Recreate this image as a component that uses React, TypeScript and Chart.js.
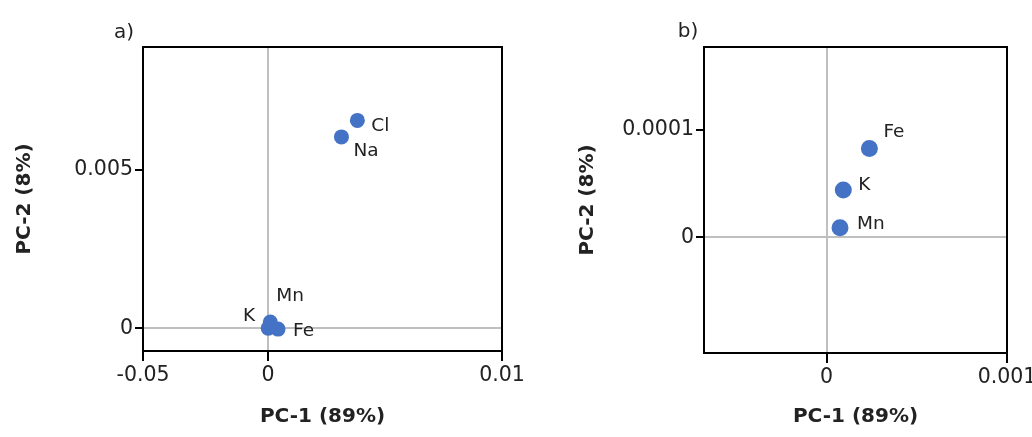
import React, { useEffect, useRef } from "react";
import { Chart, registerables } from "chart.js";
Chart.register(...registerables);

// ---------- Panel a) data ----------
const aElements = ["Cl", "Na", "Mn", "K", "Fe"];
const aPC1 = [0.00382, 0.00314, 0.0001, 0.00001, 0.00043];
const aPC2 = [0.00655, 0.00603, 0.0002, 0.00001, -0.00002];
const aXRange = [-0.00534, 0.01];
const aYRange = [-0.00071, 0.00886];
const aXTicks = [-0.00534, 0, 0.01];
const aXTickLabels = ["-0.05", "0", "0.01"];
const aYTicks = [0, 0.005];
const aYTickLabels = ["0", "0.005"];

// ---------- Panel b) data ----------
const bElements = ["Fe", "K", "Mn"];
const bPC1 = [0.000237, 0.0000924, 0.0000741];
const bPC2 = [0.0000829, 0.0000441, 0.0000089];
const bXRange = [-0.00068, 0.001];
const bYRange = [-0.0001081, 0.0001776];
const bXTicks = [0, 0.001];
const bXTickLabels = ["0", "0.001"];
const bYTicks = [0, 0.0001];
const bYTickLabels = ["0", "0.0001"];

const xTitle = "PC-1 (89%)";
const yTitle = "PC-2 (8%)";

// label placement (style): dx, dy, align
const aLabelPlace: [number, number, CanvasTextAlign][] = [
  [14, 6, "left"],
  [12, 14, "left"],
  [6, -26, "left"],
  [-13, -12, "right"],
  [15, 2, "left"],
];
const bLabelPlace: [number, number, CanvasTextAlign][] = [
  [14, -16, "left"],
  [15, -5, "left"],
  [17, -3, "left"],
];

const FONT = "'DejaVu Sans', sans-serif";
const DOT = "#4472C4";
const TEXT = "#222222";

type PanelCfg = {
  tag: string;
  tagX: number;
  tagY: number;
  width: number;
  height: number;
  area: { left: number; right: number; top: number; bottom: number };
  yTitlePad: number;
  radius: number;
  names: string[];
  xs: number[];
  ys: number[];
  xRange: number[];
  yRange: number[];
  xTicks: number[];
  xTickLabels: string[];
  yTicks: number[];
  yTickLabels: string[];
  place: [number, number, CanvasTextAlign][];
};

function Panel({ cfg, left }: { cfg: PanelCfg; left: number }) {
  const ref = useRef<HTMLCanvasElement>(null);
  useEffect(() => {
    if (!ref.current) return;
    const annot = {
      id: "annot" + cfg.tag,
      afterDatasetsDraw(chart: any) {
        const { ctx, chartArea } = chart;
        ctx.save();
        ctx.strokeStyle = "#000";
        ctx.lineWidth = 2;
        ctx.strokeRect(
          chartArea.left,
          chartArea.top,
          chartArea.right - chartArea.left,
          chartArea.bottom - chartArea.top
        );
        const meta = chart.getDatasetMeta(0);
        ctx.fillStyle = TEXT;
        ctx.font = `18.5px ${FONT}`;
        ctx.textBaseline = "middle";
        meta.data.forEach((pt: any, i: number) => {
          const p = cfg.place[i];
          ctx.textAlign = p[2];
          ctx.fillText(cfg.names[i], pt.x + p[0], pt.y + p[1]);
        });
        ctx.textAlign = "center";
        ctx.font = `20px ${FONT}`;
        ctx.fillText(cfg.tag, cfg.tagX, cfg.tagY);
        ctx.restore();
      },
    };
    const gridColor = (c: any) =>
      c.tick && c.tick.value === 0 ? "#BFBFBF" : "rgba(0,0,0,0)";
    const chart = new Chart(ref.current, {
      type: "scatter",
      data: {
        datasets: [
          {
            data: cfg.xs.map((x, i) => ({ x, y: cfg.ys[i] })),
            backgroundColor: DOT,
            borderWidth: 0,
            pointRadius: cfg.radius,
            pointHoverRadius: cfg.radius,
          },
        ],
      },
      options: {
        responsive: false,
        animation: false,
        devicePixelRatio: 1,
        events: [],
        layout: {
          padding: {
            left: 0,
            top: cfg.area.top,
            right: cfg.width - cfg.area.right,
            bottom: 0,
          },
        },
        plugins: { legend: { display: false }, tooltip: { enabled: false } },
        scales: {
          x: {
            type: "linear",
            min: cfg.xRange[0],
            max: cfg.xRange[1],
            border: { display: false },
            grid: {
              color: gridColor,
              lineWidth: 2,
              tickColor: "#000",
              tickWidth: 2,
              tickLength: 10,
            },
            afterBuildTicks: (s: any) => {
              s.ticks = cfg.xTicks.map((v) => ({ value: v }));
            },
            afterFit: (s: any) => {
              s.height = cfg.height - cfg.area.bottom;
              s.paddingLeft = 0;
              s.paddingRight = 0;
            },
            ticks: {
              autoSkip: false,
              maxRotation: 0,
              padding: 2,
              color: TEXT,
              font: { size: 20.5, family: FONT },
              callback: (_v: any, i: number) => cfg.xTickLabels[i],
            },
            title: {
              display: true,
              text: xTitle,
              color: TEXT,
              font: { size: 20, weight: "bold", family: FONT },
              padding: { top: 0, bottom: 8 },
            },
          },
          y: {
            type: "linear",
            min: cfg.yRange[0],
            max: cfg.yRange[1],
            border: { display: false },
            grid: {
              color: gridColor,
              lineWidth: 2,
              tickColor: "#000",
              tickWidth: 2,
              tickLength: 8,
            },
            afterBuildTicks: (s: any) => {
              s.ticks = cfg.yTicks.map((v) => ({ value: v }));
            },
            afterFit: (s: any) => {
              s.width = cfg.area.left;
              s.paddingTop = 0;
              s.paddingBottom = 0;
            },
            ticks: {
              autoSkip: false,
              padding: 2,
              color: TEXT,
              font: { size: 20.5, family: FONT },
              callback: (_v: any, i: number) => cfg.yTickLabels[i],
            },
            title: {
              display: true,
              text: yTitle,
              color: TEXT,
              font: { size: 20, weight: "bold", family: FONT },
              padding: { top: cfg.yTitlePad, bottom: 0 },
            },
          },
        },
      },
      plugins: [annot],
    } as any);
    return () => chart.destroy();
  }, [cfg]);
  return (
    <canvas
      ref={ref}
      width={cfg.width}
      height={cfg.height}
      style={{
        position: "absolute",
        left,
        top: 0,
        width: cfg.width,
        height: cfg.height,
      }}
    />
  );
}

const panelA: PanelCfg = {
  tag: "a)",
  tagX: 124,
  tagY: 33,
  width: 540,
  height: 437,
  area: { left: 143, right: 502, top: 47, bottom: 351 },
  yTitlePad: 13,
  radius: 7.5,
  names: aElements,
  xs: aPC1,
  ys: aPC2,
  xRange: aXRange,
  yRange: aYRange,
  xTicks: aXTicks,
  xTickLabels: aXTickLabels,
  yTicks: aYTicks,
  yTickLabels: aYTickLabels,
  place: aLabelPlace,
};

const panelB: PanelCfg = {
  tag: "b)",
  tagX: 168,
  tagY: 32,
  width: 512,
  height: 437,
  area: { left: 184, right: 487, top: 47, bottom: 353 },
  yTitlePad: 56,
  radius: 8.5,
  names: bElements,
  xs: bPC1,
  ys: bPC2,
  xRange: bXRange,
  yRange: bYRange,
  xTicks: bXTicks,
  xTickLabels: bXTickLabels,
  yTicks: bYTicks,
  yTickLabels: bYTickLabels,
  place: bLabelPlace,
};

export default function App() {
  return (
    <div
      style={{
        position: "fixed",
        left: 0,
        top: 0,
        width: 1032,
        height: 437,
        background: "#fff",
        overflow: "hidden",
      }}
    >
      <Panel cfg={panelA} left={0} />
      <Panel cfg={panelB} left={520} />
    </div>
  );
}
